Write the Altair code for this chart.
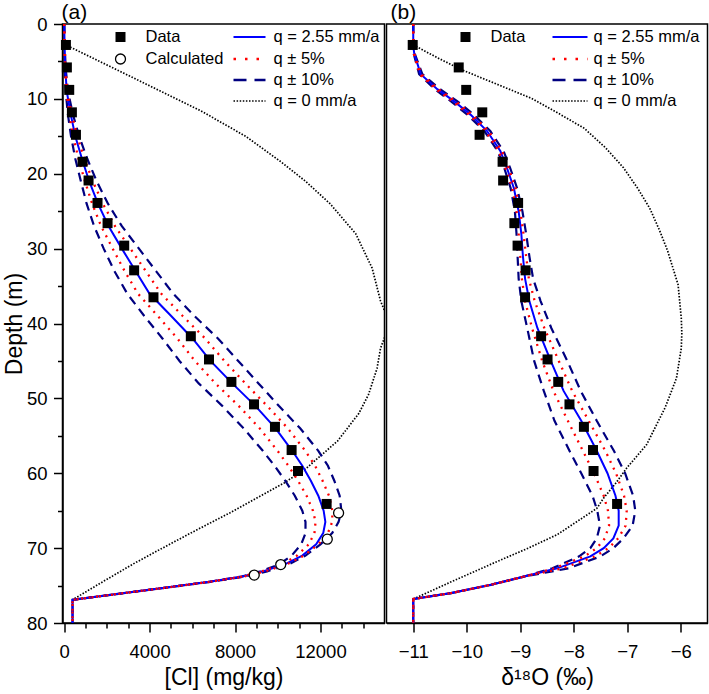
import altair as alt
import pandas as pd

FONT = "Liberation Sans"

# ---------------- Panel (a): pore-water chloride ----------------
# depth grid shared by the modelled chloride curves (m)
cl_curve_depth = [0, 3, 6, 9, 12, 15, 18, 21, 24, 27, 30, 33, 36, 39, 42, 45, 48, 51, 54, 57,
                  59, 61, 63, 65, 66.5, 68, 69.5, 71, 72.2, 73.1, 73.8, 74.5, 75.3, 76.1, 76.9, 80]
cl_q = [0, 20, 50, 120, 300, 520, 830, 1170, 1580, 2080, 2700, 3340, 3990, 5010, 6010, 6850, 7870,
        8950, 9900, 10680, 11150, 11550, 11900, 12150, 12230, 12130, 11800, 11150, 10300, 9300,
        8350, 6800, 4700, 2550, 390, 390]
cl_q_minus10 = [0, 25, 70, 180, 400, 700, 1080, 1520, 2050, 2700, 3500, 4300, 5100, 6100, 7200, 8150,
                9100, 10050, 11050, 11900, 12350, 12650, 12900, 12980, 12850, 12550, 12000, 11300,
                10500, 9500, 8450, 6850, 4700, 2550, 390, 390]
cl_q_minus5 = [0, 22, 60, 150, 350, 610, 950, 1340, 1810, 2380, 3100, 3820, 4540, 5550, 6600, 7500,
               8480, 9500, 10470, 11290, 11750, 12100, 12400, 12560, 12550, 12350, 11900, 11230,
               10400, 9400, 8400, 6820, 4700, 2550, 390, 390]
cl_q_plus5 = [0, 15, 40, 95, 230, 420, 670, 970, 1310, 1730, 2270, 2830, 3450, 4380, 5300, 6120, 7080,
              8170, 9150, 9990, 10500, 10950, 11350, 11650, 11770, 11720, 11450, 10900, 10170, 9250,
              8320, 6790, 4700, 2550, 390, 390]
cl_q_plus10 = [0, 12, 30, 70, 170, 320, 520, 780, 1050, 1400, 1850, 2350, 2950, 3750, 4600, 5400, 6300,
               7400, 8400, 9300, 9850, 10350, 10800, 11150, 11300, 11300, 11100, 10650, 10050, 9200,
               8300, 6780, 4700, 2550, 390, 390]

# purely diffusive profile (q = 0)
cl_q0_depth = [2.9, 7, 11.6, 15, 18.3, 21, 24, 28, 32.6, 37, 40, 43.3, 46, 49.5, 52, 55.7, 59.3,
               61.3, 63.8, 65.3, 67.8, 70, 72, 74.5, 76.9]
cl_q0 = [150, 3100, 6400, 8500, 10100, 11300, 12450, 13650, 14420, 14815, 15250, 14815, 14650,
         14250, 13800, 12800, 11350, 10300, 8700, 7750, 6050, 4600, 3300, 1800, 390]

# measured samples
sample_depth = [2.8, 5.8, 8.8, 11.8, 14.8, 18.4, 20.9, 23.9, 26.6, 29.6, 32.9, 36.5, 41.7, 44.8,
                47.8, 50.8, 53.8, 56.9, 59.7, 64.1]
cl_measured = [80, 125, 235, 360, 550, 860, 1140, 1560, 2030, 2810, 3275, 4180, 5930, 6780, 7830,
               8890, 9870, 10650, 10950, 12290]

# calculated points
calc_depth = [65.3, 68.8, 72.2, 73.6]
cl_calculated = [12850, 12320, 10140, 8900]

# ---------------- Panel (b): delta 18O ----------------
o_curve_depth = [0, 3, 4, 6.7, 8.7, 10.3, 12.1, 14.3, 17, 19.2, 21.9, 25, 28, 31, 34, 37, 40.6, 45,
                 49, 53, 57, 60, 63, 65, 67, 68.7, 70, 71.1, 72.7, 73.8, 74.9, 76, 76.8, 80]
o_q = [-11, -11, -10.98, -10.86, -10.55, -10.24, -9.93, -9.62, -9.37, -9.25, -9.12, -9.03, -8.98,
       -8.95, -8.91, -8.83, -8.68, -8.43, -8.19, -7.86, -7.57, -7.37, -7.22, -7.16, -7.16, -7.26,
       -7.44, -7.69, -8.31, -8.93, -9.55, -10.29, -11, -11]
o_q_minus10 = [-11, -11, -10.97, -10.83, -10.50, -10.18, -9.87, -9.56, -9.31, -9.19, -9.06, -8.96,
               -8.89, -8.83, -8.76, -8.62, -8.42, -8.12, -7.87, -7.57, -7.25, -7.04, -6.89, -6.85,
               -6.90, -7.07, -7.26, -7.50, -8.10, -8.93, -9.55, -10.29, -11, -11]
o_q_minus5 = [-11, -11, -10.98, -10.85, -10.53, -10.21, -9.90, -9.59, -9.34, -9.22, -9.09, -9.00,
              -8.94, -8.89, -8.84, -8.73, -8.55, -8.28, -8.03, -7.72, -7.41, -7.21, -7.06, -7.01,
              -7.03, -7.17, -7.35, -7.60, -8.21, -8.93, -9.55, -10.29, -11, -11]
o_q_plus5 = [-11, -11, -10.99, -10.88, -10.58, -10.27, -9.96, -9.65, -9.40, -9.28, -9.15, -9.07,
             -9.03, -9.00, -8.97, -8.91, -8.78, -8.59, -8.38, -8.11, -7.83, -7.62, -7.44, -7.36,
             -7.34, -7.42, -7.57, -7.80, -8.36, -8.93, -9.55, -10.29, -11, -11]
o_q_plus10 = [-11, -11, -10.99, -10.89, -10.60, -10.30, -9.99, -9.67, -9.42, -9.30, -9.18, -9.10,
              -9.07, -9.05, -9.03, -8.98, -8.87, -8.74, -8.56, -8.36, -8.08, -7.86, -7.65, -7.56,
              -7.51, -7.57, -7.69, -7.90, -8.40, -8.93, -9.55, -10.29, -11, -11]

o_q0_depth = [2.8, 4.5, 6.1, 8, 9.9, 12, 13.9, 16.5, 19.2, 22, 24.6, 27.5, 30.2, 34.8, 39.3, 41.3,
              43.3, 47.3, 51.2, 56.2, 59.3, 61.2, 63.3, 64.7, 66.5, 68.2, 70, 72, 74.5, 76.8]
o_q0 = [-11.0, -10.55, -10.10, -9.45, -8.80, -8.27, -7.81, -7.41, -7.07, -6.80, -6.58, -6.40, -6.25,
        -6.05, -5.99, -5.98, -5.99, -6.08, -6.29, -6.64, -7.01, -7.20, -7.44, -7.57, -7.95, -8.31,
        -8.85, -9.50, -10.29, -11.0]

o_measured = [-11.01, -10.15, -10.01, -9.71, -9.76, -9.33, -9.32, -9.04, -9.11, -9.05, -8.90, -8.91,
              -8.61, -8.49, -8.29, -8.08, -7.81, -7.64, -7.63, -7.19]

legend_lines = ["q = 2.55 mm/a", "q \u00b1 5%", "q \u00b1 10%", "q = 0 mm/a"]

# ---------------- styling ----------------
W_A, W_B, H = 322, 321, 599
BLUE, RED, NAVY = "#0000ff", "#ff0000", "#000080"
SOLID = dict(color=BLUE, strokeWidth=2)
DOTTED = dict(color=RED, strokeWidth=2.3, strokeDash=[2, 5.5])
DASHED = dict(color=NAVY, strokeWidth=2.2, strokeDash=[9, 6])
FINE = dict(color="black", strokeWidth=1.7, strokeDash=[1.5, 1.6])
SYM = 100


def frame(depth, values, curve):
    return pd.DataFrame({"depth": depth, "v": values, "curve": curve})


def curves(pairs):
    return pd.concat([frame(d, v, c) for d, v, c in pairs], ignore_index=True)


def tick_axis(values, major_test, fmt, title):
    return alt.Axis(
        values=values, format=fmt, title=title,
        labelExpr=f"({major_test}) ? datum.label : ''",
        tickSize={"condition": {"test": major_test, "value": 9}, "value": 5},
        labelFlush=False, labelOverlap=False, labelPadding=10, titlePadding=6,
    )


y_axis = alt.Axis(values=list(range(0, 81, 5)), format="d", title="Depth (m)",
                  labelExpr="datum.value % 10 === 0 ? datum.label : ''",
                  tickSize={"condition": {"test": "datum.value % 10 === 0", "value": 9}, "value": 5},
                  labelFlush=False, labelOverlap=False, labelPadding=6.5, titlePadding=0)
y_scale = alt.Scale(domain=[0, 80], reverse=True, nice=False, zero=False)

dummy = pd.DataFrame({"k": [0]})


def text_at(label, x, y, size=16.5):
    return alt.Chart(dummy).mark_text(
        align="left", baseline="middle", font=FONT, fontSize=size, color="black").encode(
        x=alt.value(x), y=alt.value(y), text=alt.value(label))


def legend_layers(entries_pts, x_sym, x_pts_txt, x_line0, x_line1, x_line_txt, rows):
    layers = []
    for (shape, filled, label), yy in zip(entries_pts, rows):
        layers.append(alt.Chart(dummy).mark_point(
            shape=shape, filled=filled, color="black", fill="black" if filled else "white",
            size=SYM, strokeWidth=1.3, opacity=1).encode(x=alt.value(x_sym), y=alt.value(yy)))
        layers.append(text_at(label, x_pts_txt, yy))
    styles = [dict(color=BLUE, strokeWidth=2),
              dict(color=RED, strokeWidth=2.5, strokeDash=[2.5, 9]),
              dict(color=NAVY, strokeWidth=2.4, strokeDash=[13, 8]),
              dict(color="black", strokeWidth=1.6, strokeDash=[1.5, 1.6])]
    for label, st, yy in zip(legend_lines, styles, rows):
        layers.append(alt.Chart(dummy).mark_rule(**st).encode(
            x=alt.value(x_line0), x2=alt.value(x_line1), y=alt.value(yy)))
        layers.append(text_at(label, x_line_txt, yy))
    return layers


def panel(x_enc, y_enc, q0, dashed, solid, dotted, extra, width, tag, tag_x):
    def line(df, style):
        return alt.Chart(df).mark_line(clip=True, **style).encode(
            x=x_enc, y=y_enc, detail="curve:N", order="depth:Q")
    layers = [line(q0, FINE), line(dashed, DASHED), line(solid, SOLID), line(dotted, DOTTED)]
    layers += extra
    layers.append(text_at(tag, tag_x, -11, size=21))
    return alt.layer(*layers).properties(width=width, height=H)


# ---- panel (a) ----
xa = alt.X("v:Q", scale=alt.Scale(domain=[-80, 15000], nice=False, zero=False),
           axis=tick_axis(list(range(0, 15000, 1000)), "datum.value % 4000 === 0", "d",
                          "[Cl] (mg/kg)"))
ya = alt.Y("depth:Q", scale=y_scale, axis=y_axis)

meas_a = pd.DataFrame({"depth": sample_depth, "v": cl_measured})
calc_a = pd.DataFrame({"depth": calc_depth, "v": cl_calculated})

pts_a = [
    alt.Chart(meas_a).mark_point(shape="square", filled=True, color="black", size=SYM, opacity=1)
    .encode(x=xa, y=ya),
    alt.Chart(calc_a).mark_point(shape="circle", filled=False, color="black", fill="white",
                                 size=SYM, strokeWidth=1.3, opacity=1).encode(x=xa, y=ya),
]
leg_a = legend_layers([("square", True, "Data"), ("circle", False, "Calculated")],
                      58, 83, 171, 203, 211, [13, 35, 56, 77])

panel_a = panel(
    xa, ya,
    curves([(cl_q0_depth, cl_q0, "q0")]),
    curves([(cl_curve_depth, cl_q_minus10, "m10"), (cl_curve_depth, cl_q_plus10, "p10")]),
    curves([(cl_curve_depth, cl_q, "q")]),
    curves([(cl_curve_depth, cl_q_minus5, "m5"), (cl_curve_depth, cl_q_plus5, "p5")]),
    pts_a + leg_a, W_A, "(a)", -1)

# ---- panel (b) ----
xb = alt.X("v:Q", scale=alt.Scale(domain=[-11.5, -5.5], nice=False, zero=False),
           axis=tick_axis([-11 + 0.5 * i for i in range(11)], "datum.value % 1 === 0", "d",
                          "\u03b4\u00b9\u2078O (\u2030)"))
yb = alt.Y("depth:Q", scale=y_scale, axis=None)

meas_b = pd.DataFrame({"depth": sample_depth, "v": o_measured})
pts_b = [alt.Chart(meas_b).mark_point(shape="square", filled=True, color="black", size=SYM,
                                      opacity=1).encode(x=xb, y=yb)]
leg_b = legend_layers([("square", True, "Data")], 79, 104, 166, 201, 207, [13, 35, 56, 77])

panel_b = panel(
    xb, yb,
    curves([(o_q0_depth, o_q0, "q0")]),
    curves([(o_curve_depth, o_q_minus10, "m10"), (o_curve_depth, o_q_plus10, "p10")]),
    curves([(o_curve_depth, o_q, "q")]),
    curves([(o_curve_depth, o_q_minus5, "m5"), (o_curve_depth, o_q_plus5, "p5")]),
    pts_b + leg_b, W_B, "(b)", 4)

chart = alt.hconcat(panel_a, panel_b, spacing=0).properties(
    padding={"left": 2.5, "top": 1, "right": 0, "bottom": 0}
).configure(font=FONT).configure_view(
    stroke="black", strokeWidth=1.5
).configure_axis(
    labelFont=FONT, titleFont=FONT, labelFontSize=18.5, titleFontSize=23,
    titleFontWeight="normal", labelColor="black", titleColor="black",
    domainColor="black", tickColor="black", domainWidth=1.5, tickWidth=1.5, grid=False
)

chart.save("out.html", embed_options={"renderer": "svg", "actions": False})
